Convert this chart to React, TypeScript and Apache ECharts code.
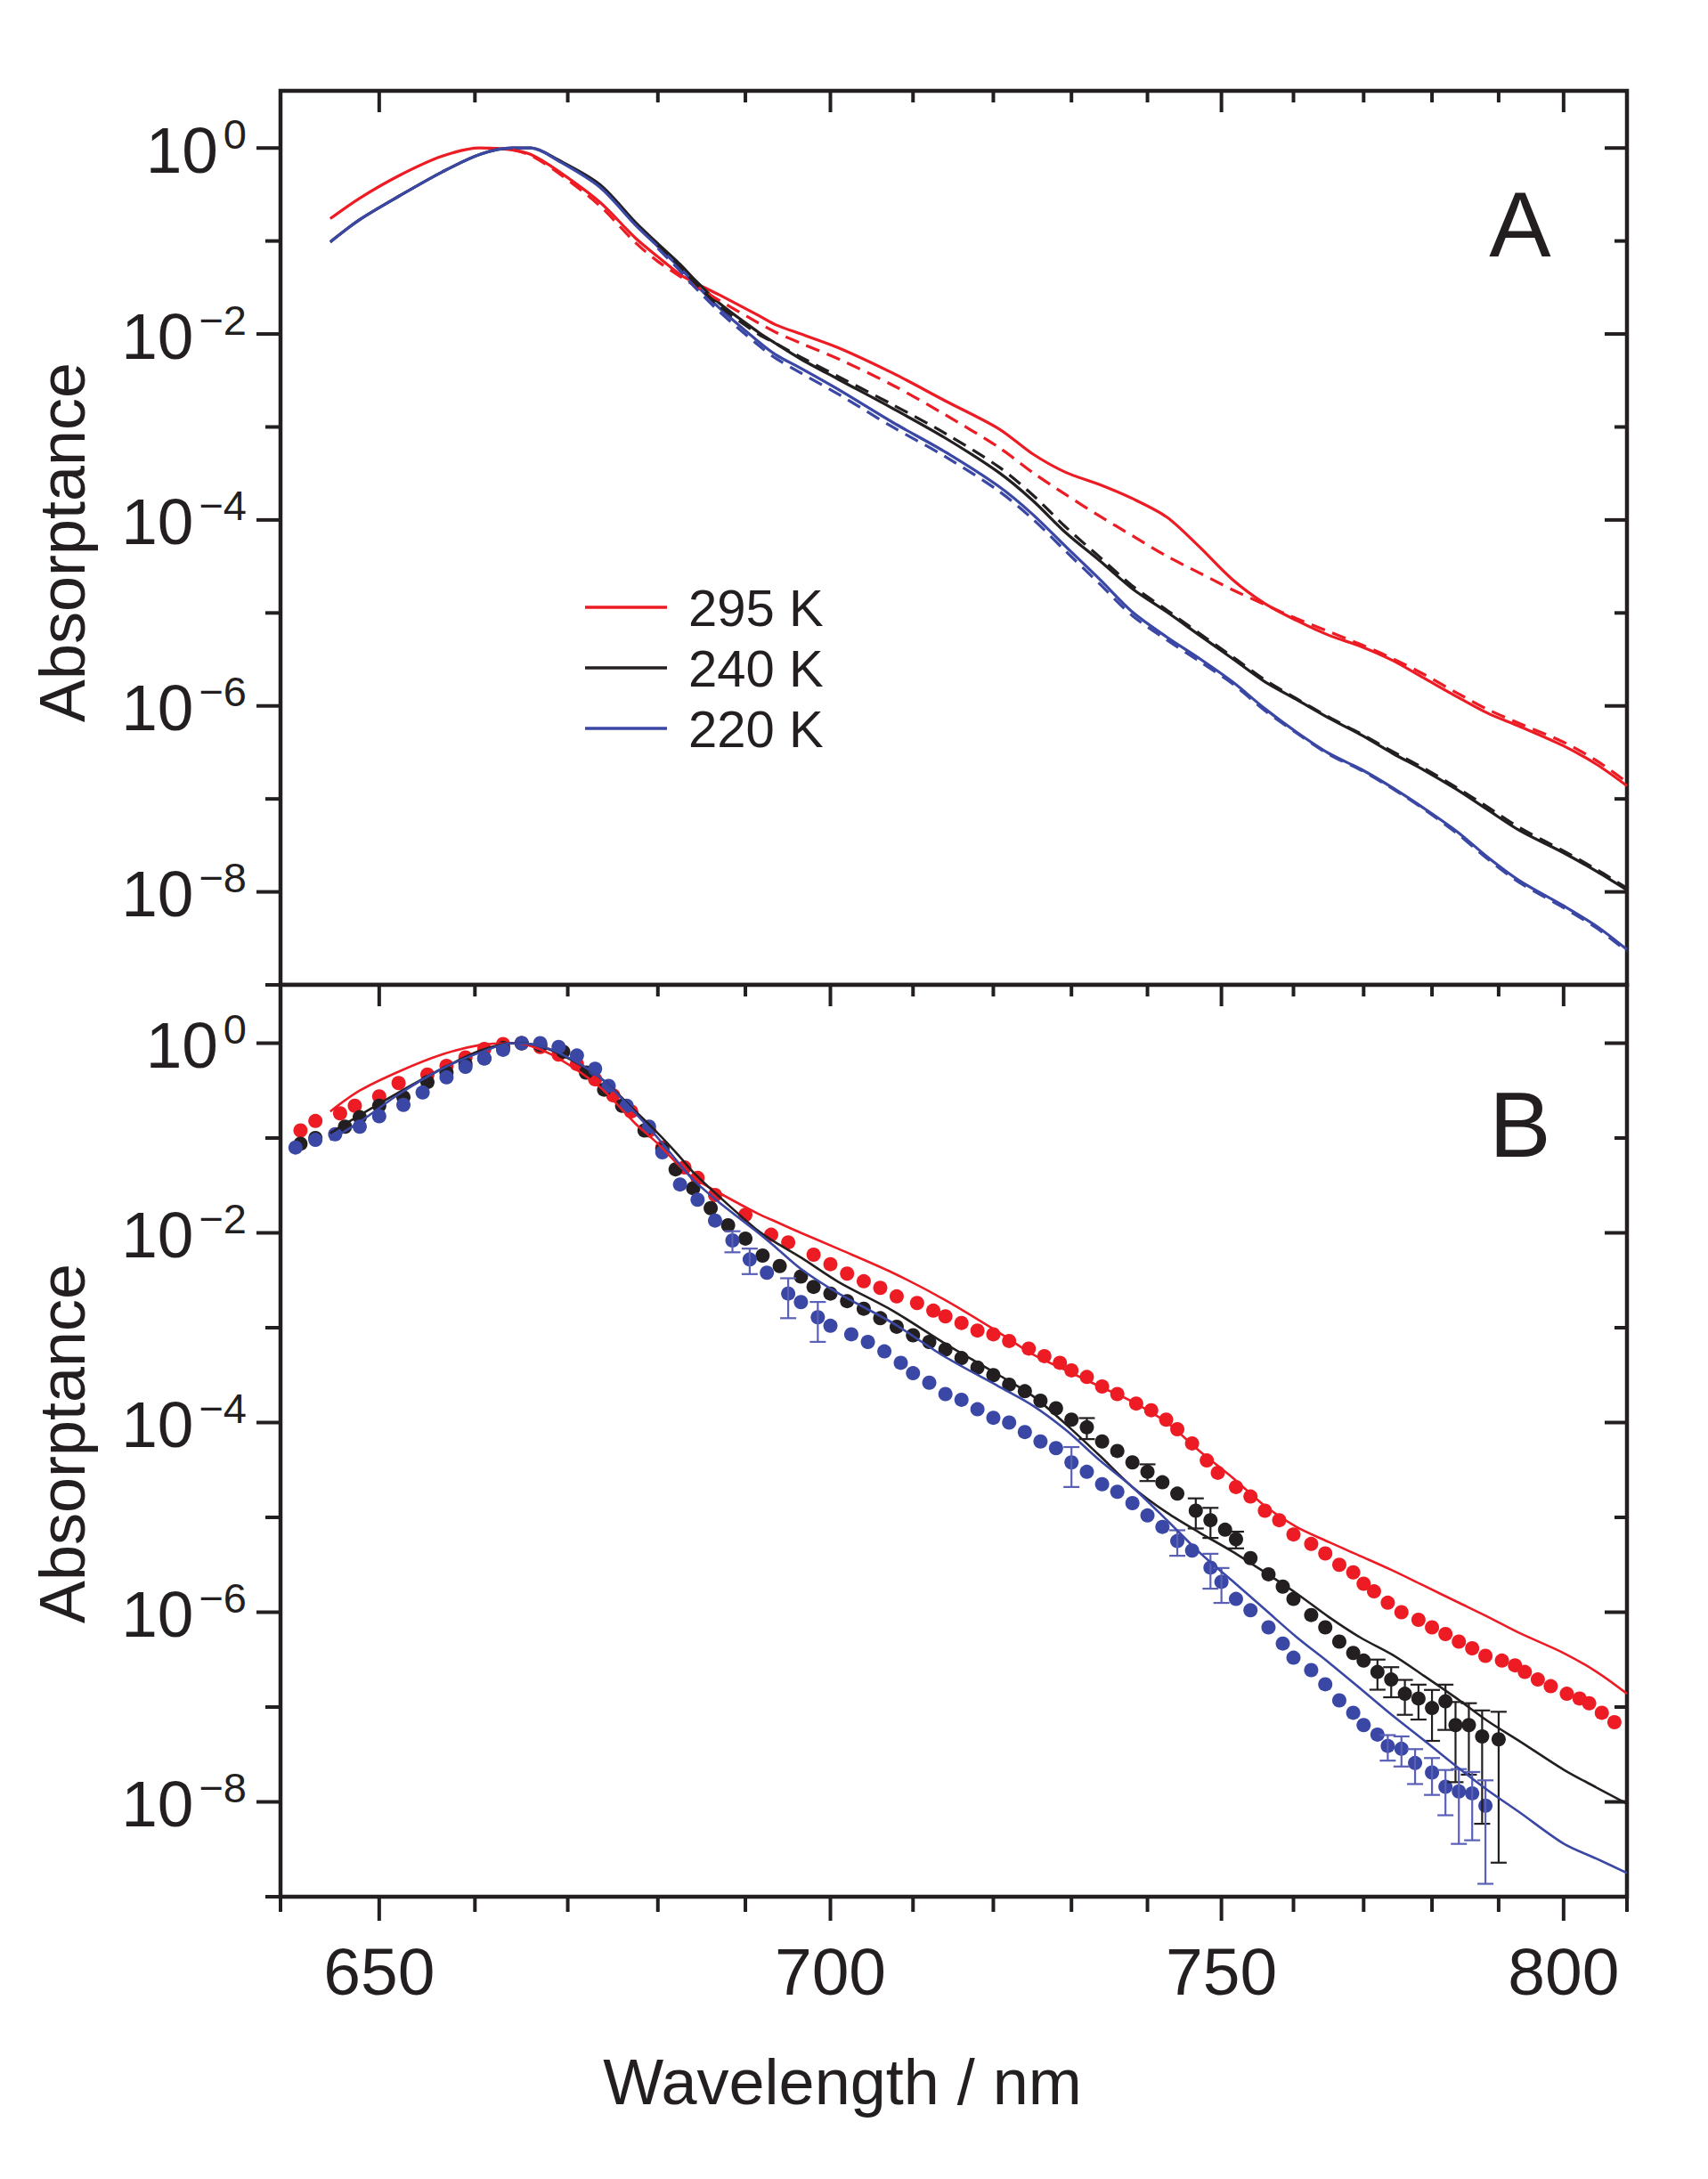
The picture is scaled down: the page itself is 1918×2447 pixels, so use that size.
import React, { useEffect, useRef } from 'react';
import * as echarts from 'echarts';

const FONT = "'Liberation Sans', Arial, Helvetica, sans-serif";
const INK = '#231f20';
const RED = '#ed1c24';
const BLACK = '#231f20';
const BLUE = '#3a47a5';
const BLUE_BAR = '#5a60b6';

// axis ticks (wavelength in nm, absorptance as powers of ten)
const xTickWl = [640, 650, 660, 670, 680, 690, 700, 710, 720, 730, 740, 750, 760, 770, 780, 790, 800, 810];
const xLabelWl = [650, 700, 750, 800];
const yTickExp = [-9, -8, -7, -6, -5, -4, -3, -2, -1, 0];
const yLabelExp = [0, -2, -4, -6, -8];

// wavelength grid of the spectra (nm)
const curveWl = [645, 648, 652, 656.5, 660.5, 664, 666, 669, 673.5, 677.5, 680, 682.5, 684, 687, 691.5, 693.5,
  696.5, 701, 707.5, 714, 720.7, 725, 729.3, 733.7, 738, 742.6, 747, 751.5, 756, 760.4, 765, 769.6, 774.2,
  778.8, 783.7, 788.4, 793.2, 800, 805.2, 810];

// panel A, log10(absorptance): solid spectra
const a295 = [-0.76, -0.54, -0.30, -0.09, 0.0, -0.02, -0.07, -0.25, -0.58, -0.97, -1.17, -1.36, -1.44, -1.58,
  -1.80, -1.90, -2.00, -2.15, -2.42, -2.72, -3.02, -3.29, -3.49, -3.62, -3.77, -3.97, -4.29, -4.64, -4.90,
  -5.08, -5.24, -5.36, -5.51, -5.70, -5.90, -6.08, -6.22, -6.43, -6.63, -6.86];
const a240 = [-1.01, -0.77, -0.52, -0.26, -0.07, 0.0, 0.0, -0.13, -0.39, -0.80, -1.03, -1.25, -1.40, -1.67,
  -1.98, -2.10, -2.27, -2.49, -2.80, -3.12, -3.49, -3.79, -4.14, -4.44, -4.74, -4.99, -5.24, -5.49, -5.74,
  -5.93, -6.13, -6.31, -6.51, -6.69, -6.90, -7.12, -7.34, -7.58, -7.78, -7.98];
const a220 = [-1.01, -0.77, -0.52, -0.26, -0.07, 0.0, 0.0, -0.14, -0.42, -0.83, -1.06, -1.29, -1.44, -1.72,
  -2.08, -2.22, -2.37, -2.60, -2.95, -3.27, -3.64, -3.94, -4.29, -4.64, -4.99, -5.26, -5.49, -5.74, -6.03,
  -6.28, -6.51, -6.68, -6.88, -7.10, -7.35, -7.63, -7.88, -8.15, -8.37, -8.62];

// panel A, dashed (calculated) spectra
const calcRedWl = curveWl.slice(5);
const calc295 = [-0.02, -0.08, -0.27, -0.62, -1.02, -1.22, -1.38, -1.47, -1.64, -1.88, -1.98, -2.10, -2.27,
  -2.55, -2.87, -3.22, -3.49, -3.73, -3.96, -4.17, -4.39, -4.57, -4.75, -4.91, -5.06, -5.20, -5.34, -5.49,
  -5.66, -5.86, -6.04, -6.19, -6.39, -6.59, -6.82];
const calcWl = curveWl.slice(10);
const calc240 = [-1.04, -1.27, -1.43, -1.70, -2.00, -2.10, -2.25, -2.46, -2.76, -3.07, -3.43, -3.73, -4.08,
  -4.40, -4.71, -4.97, -5.22, -5.47, -5.72, -5.92, -6.12, -6.30, -6.49, -6.67, -6.88, -7.09, -7.31, -7.56,
  -7.76, -7.96];
const calc220 = [-1.08, -1.32, -1.48, -1.76, -2.12, -2.26, -2.42, -2.65, -3.00, -3.32, -3.69, -3.99, -4.34,
  -4.69, -5.03, -5.29, -5.52, -5.76, -6.05, -6.29, -6.52, -6.69, -6.89, -7.11, -7.37, -7.65, -7.90, -8.17,
  -8.39, -8.64];

// panel B, solid lines
const b295 = [-0.72, -0.50, -0.30, -0.12, -0.02, 0.0, -0.03, -0.16, -0.46, -0.85, -1.06, -1.30, -1.42, -1.58,
  -1.80, -1.88, -2.00, -2.17, -2.42, -2.71, -3.05, -3.28, -3.45, -3.62, -3.78, -4.00, -4.30, -4.58, -4.88,
  -5.10, -5.26, -5.41, -5.56, -5.72, -5.89, -6.05, -6.22, -6.43, -6.63, -6.86];
const b240 = [-0.95, -0.76, -0.52, -0.27, -0.08, 0.0, -0.01, -0.11, -0.36, -0.72, -0.95, -1.20, -1.36, -1.62,
  -1.98, -2.10, -2.26, -2.52, -2.82, -3.17, -3.50, -3.72, -4.02, -4.35, -4.68, -4.95, -5.16, -5.36, -5.58,
  -5.80, -6.05, -6.27, -6.45, -6.67, -6.91, -7.15, -7.36, -7.66, -7.85, -8.02];
const b220 = [-1.02, -0.83, -0.54, -0.27, -0.10, 0.0, -0.01, -0.10, -0.36, -0.74, -1.00, -1.28, -1.44, -1.68,
  -2.00, -2.15, -2.38, -2.64, -2.95, -3.31, -3.62, -3.82, -4.08, -4.40, -4.68, -5.03, -5.37, -5.67, -5.97,
  -6.26, -6.53, -6.81, -7.09, -7.35, -7.63, -7.88, -8.11, -8.44, -8.60, -8.75];

// panel B, measured points
const redDotWl = [642, 643.5, 646, 647.5, 650, 652, 655, 657, 659, 661, 663, 665, 667, 669, 671, 673, 675, 677,
  679, 680.5, 683, 684.5, 686.5, 690, 693, 695, 698, 700, 702, 704, 706, 708, 710.5, 712.5, 714, 716, 718, 720,
  722, 724.5, 726.5, 728.5, 730, 732, 734, 736, 738.5, 740.5, 742.5, 744, 746, 748, 749.5, 752, 754, 756, 758,
  760, 762.5, 764.5, 766.5, 768.5, 770, 771.5, 773.5, 775.5, 778, 780, 782, 784, 786, 788, 790.5, 792.5, 794,
  796, 798, 800.5, 802.5, 804, 806, 808];
const redDot = [-0.92, -0.82, -0.74, -0.66, -0.56, -0.42, -0.33, -0.24, -0.15, -0.06, -0.01, 0.0, -0.04, -0.12,
  -0.22, -0.38, -0.55, -0.72, -0.92, -1.10, -1.31, -1.42, -1.60, -1.81, -2.02, -2.10, -2.23, -2.33, -2.43,
  -2.51, -2.58, -2.67, -2.74, -2.82, -2.88, -2.95, -3.03, -3.07, -3.14, -3.22, -3.30, -3.37, -3.45, -3.52,
  -3.62, -3.70, -3.80, -3.87, -3.97, -4.07, -4.22, -4.40, -4.53, -4.68, -4.78, -4.93, -5.03, -5.18, -5.28,
  -5.38, -5.50, -5.58, -5.70, -5.78, -5.90, -6.00, -6.08, -6.16, -6.23, -6.31, -6.38, -6.46, -6.51, -6.56,
  -6.63, -6.71, -6.78, -6.86, -6.91, -6.96, -7.06, -7.16];
const blackDotWl = [642, 643.5, 646.5, 648, 650, 652.5, 655, 657, 659, 661, 663, 665, 667, 669.5, 672, 674, 676,
  678.5, 680.5, 682, 684, 686, 688, 690, 692, 694, 696.5, 698, 700, 702, 704, 706, 708, 710, 712, 714, 716, 718,
  720, 722, 724, 726, 728, 730, 732, 734, 736, 738, 740, 742, 744, 746.5, 748.5, 750.5, 752, 754, 756.5, 758.5,
  760, 762.5, 764.5, 766.5, 768.5, 770, 772, 774, 776, 778, 780, 782, 783.5, 785.5, 787.5, 790];
const blackDot = [-1.06, -1.00, -0.88, -0.78, -0.66, -0.57, -0.41, -0.31, -0.22, -0.16, -0.05, 0.0, -0.02, -0.09,
  -0.31, -0.49, -0.66, -0.92, -1.12, -1.33, -1.53, -1.74, -1.92, -2.06, -2.24, -2.35, -2.46, -2.57, -2.64,
  -2.72, -2.80, -2.90, -2.99, -3.08, -3.15, -3.23, -3.32, -3.42, -3.50, -3.60, -3.67, -3.77, -3.85, -3.97,
  -4.05, -4.20, -4.30, -4.42, -4.52, -4.63, -4.75, -4.93, -5.03, -5.13, -5.23, -5.43, -5.60, -5.73, -5.86,
  -6.03, -6.16, -6.31, -6.43, -6.51, -6.63, -6.71, -6.86, -6.91, -7.01, -6.94, -7.19, -7.19, -7.31, -7.34];
const blueDotWl = [641.5, 643.5, 645.5, 648, 650, 652.5, 654.5, 657, 659, 661, 663, 665, 667, 669, 671, 673,
  674.5, 676.5, 679, 680.5, 682.5, 684.5, 686.5, 688.5, 690.5, 692.5, 695, 696.5, 698.5, 700, 702.5, 704.5,
  706.5, 708.5, 710, 712, 714, 716, 718, 720, 722, 724, 726, 728, 730, 732, 734, 736, 738, 740, 742, 744, 746,
  748.5, 750, 752, 754, 756.5, 758.5, 760, 762.5, 764.5, 766.5, 768.5, 770, 772, 773.5, 775.5, 777.5, 780, 782,
  784, 786, 788];
const blueDot = [-1.10, -1.02, -0.96, -0.88, -0.77, -0.65, -0.52, -0.36, -0.25, -0.16, -0.07, 0.0, 0.0, -0.04,
  -0.13, -0.27, -0.45, -0.66, -0.88, -1.15, -1.49, -1.65, -1.87, -2.08, -2.28, -2.42, -2.64, -2.73, -2.89,
  -2.98, -3.07, -3.15, -3.25, -3.37, -3.48, -3.58, -3.70, -3.76, -3.86, -3.95, -4.00, -4.10, -4.20, -4.27,
  -4.42, -4.52, -4.65, -4.73, -4.85, -4.98, -5.10, -5.25, -5.35, -5.53, -5.68, -5.86, -5.98, -6.16, -6.33,
  -6.48, -6.61, -6.76, -6.93, -7.06, -7.19, -7.29, -7.41, -7.44, -7.59, -7.69, -7.84, -7.89, -7.91, -8.04];

// visible error bars: wavelength of the point and relative error
const blackErrWl = [732, 740, 746.5, 748.5, 752, 772, 774, 776, 778, 780, 782, 783.5, 785.5, 787.5, 790];
const blackErr = [0.25, 0.2, 0.35, 0.35, 0.2, 0.35, 0.35, 0.4, 0.4, 0.55, 0.5, 0.75, 0.7, 0.88, 0.95];
const blueErrWl = [688.5, 690.5, 695, 698.5, 730, 744, 748.5, 750, 773.5, 775.5, 777.5, 780, 782, 784, 786, 788];
const blueErr = [0.25, 0.3, 0.45, 0.45, 0.45, 0.3, 0.4, 0.4, 0.3, 0.35, 0.4, 0.42, 0.5, 0.72, 0.68, 0.85];

// x axis is linear in wavenumber (cm^-1)
const nu = (wl: number) => 1e7 / wl;
const pts = (wl: number[], lg: number[]) => wl.map((w, i) => [nu(w), Math.pow(10, lg[i])]);
const NU_MIN = nu(810);
const NU_MAX = nu(640);

const measureCtx = typeof document !== 'undefined' ? document.createElement('canvas').getContext('2d') : null;
const textWidth = (t: string, size: number) => {
  if (!measureCtx) return t.length * size * 0.56;
  measureCtx.font = `${size}px ${FONT}`;
  return measureCtx.measureText(t).width;
};

const bars = (errWl: number[], err: number[], dotWl: number[], dot: number[]) =>
  errWl.map((w, i) => {
    const v = Math.pow(10, dot[dotWl.indexOf(w)]);
    return [nu(w), v * (1 - err[i]), v * (1 + err[i])];
  });

const lineSeries = (name: string, data: number[][], color: string, axis: number, width: number, dashed = false) => ({
  name,
  type: 'line',
  xAxisIndex: axis,
  yAxisIndex: axis,
  data,
  smooth: 0.3,
  showSymbol: false,
  symbol: 'none',
  itemStyle: { color },
  lineStyle: { color, width, type: dashed ? [16, 9] : 'solid' },
  z: dashed ? 4 : 3,
});

const xTickSeries = (axis: number) => ({
  type: 'custom',
  xAxisIndex: axis,
  yAxisIndex: axis,
  data: xTickWl.map((w) => [nu(w), 1]),
  z: 6,
  renderItem: (params: any, api: any) => {
    const cs = params.coordSys;
    const x = api.coord([api.value(0), 1])[0];
    const wl = Math.round(1e7 / api.value(0));
    const major = xLabelWl.includes(wl);
    const st = { stroke: INK, lineWidth: 4 };
    const children: any[] = [
      { type: 'line', shape: { x1: x, y1: cs.y, x2: x, y2: cs.y + (major ? 24 : 13) }, style: st },
    ];
    if (axis === 1) {
      const yb = cs.y + cs.height;
      children.push({ type: 'line', shape: { x1: x, y1: yb, x2: x, y2: yb + (major ? 27 : 17) }, style: st });
      if (major) {
        children.push({
          type: 'text',
          style: {
            text: String(wl), x, y: yb + 84, align: 'center', verticalAlign: 'middle',
            fontSize: 75, fontFamily: FONT, fill: INK,
          },
        });
      }
    }
    return { type: 'group', children };
  },
});

// y ticks on both sides, and "10^n" labels with a raised exponent
const yTickSeries = (axis: number) => ({
  type: 'custom',
  xAxisIndex: axis,
  yAxisIndex: axis,
  data: yTickExp.map((e) => [nu(700), Math.pow(10, e)]),
  z: 6,
  renderItem: (params: any, api: any) => {
    const cs = params.coordSys;
    const y = api.coord([api.value(0), api.value(1)])[1];
    const e = Math.round(Math.log10(api.value(1)));
    const major = e % 2 === 0;
    const st = { stroke: INK, lineWidth: 4 };
    const xr = cs.x + cs.width;
    const children: any[] = [
      { type: 'line', shape: { x1: cs.x - (major ? 27 : 17), y1: y, x2: cs.x, y2: y }, style: st },
      { type: 'line', shape: { x1: xr - (major ? 25 : 14), y1: y, x2: xr, y2: y }, style: st },
    ];
    if (yLabelExp.includes(e)) {
      const sup = e === 0 ? '0' : '\u2212' + -e;
      const right = cs.x - 38;
      const supLeft = right - textWidth(sup, 47);
      children.push(
        {
          type: 'text',
          style: { text: sup, x: right, y: y - 16, align: 'right', verticalAlign: 'middle', fontSize: 47, fontFamily: FONT, fill: INK },
        },
        {
          type: 'text',
          style: { text: '10', x: supLeft - 6, y: y + 2, align: 'right', verticalAlign: 'middle', fontSize: 73, fontFamily: FONT, fill: INK },
        },
      );
    }
    return { type: 'group', children };
  },
});

const errorSeries = (data: number[][], color: string) => ({
  type: 'custom',
  xAxisIndex: 1,
  yAxisIndex: 1,
  data,
  encode: { x: 0, y: [1, 2] },
  z: 3,
  renderItem: (params: any, api: any) => {
    const top = api.coord([api.value(0), api.value(2)]);
    const bot = api.coord([api.value(0), api.value(1)]);
    const w = 9;
    const st = { stroke: color, lineWidth: 2.2 };
    return {
      type: 'group',
      children: [
        { type: 'line', shape: { x1: top[0], y1: top[1], x2: bot[0], y2: bot[1] }, style: st },
        { type: 'line', shape: { x1: top[0] - w, y1: top[1], x2: top[0] + w, y2: top[1] }, style: st },
        { type: 'line', shape: { x1: bot[0] - w, y1: bot[1], x2: bot[0] + w, y2: bot[1] }, style: st },
      ],
    };
  },
});

const dotSeries = (name: string, data: number[][], color: string) => ({
  name,
  type: 'scatter',
  xAxisIndex: 1,
  yAxisIndex: 1,
  data,
  symbol: 'circle',
  symbolSize: 16,
  itemStyle: { color, opacity: 1 },
  z: 2,
});

const yAxis = (grid: number) => ({
  type: 'log',
  gridIndex: grid,
  logBase: 10,
  min: 1e-9,
  max: 4.12,
  interval: 1,
  axisLine: { show: false },
  axisTick: { show: false },
  splitLine: { show: false },
  axisLabel: { show: false },
});

const xAxis = (grid: number) => ({
  type: 'value',
  gridIndex: grid,
  min: NU_MIN,
  max: NU_MAX,
  inverse: true,
  show: false,
});

const App = () => {
  const chartRef = useRef<HTMLDivElement>(null);

  useEffect(() => {
    document.body.style.margin = '0';
    const chart = echarts.init(chartRef.current, null, { renderer: 'svg' });

    const gridStyle = { show: true, borderColor: INK, borderWidth: 4.5, backgroundColor: '#fff' };

    const option = {
      animation: false,
      backgroundColor: '#fff',
      grid: [
        { left: 315, top: 102, width: 1512, height: 1004, ...gridStyle },
        { left: 315, top: 1106, width: 1512, height: 1024, ...gridStyle },
      ],
      xAxis: [xAxis(0), xAxis(1)],
      yAxis: [yAxis(0), yAxis(1)],
      legend: {
        data: ['295 K', '240 K', '220 K'],
        orient: 'vertical',
        left: 652,
        top: 648,
        icon: 'rect',
        itemWidth: 92,
        itemHeight: 3.5,
        itemGap: 10,
        selectedMode: false,
        textStyle: { fontSize: 58, lineHeight: 58, fontFamily: FONT, color: INK, padding: [0, 0, 0, 19] },
      },
      graphic: [
        {
          type: 'text', x: 1707, y: 252,
          style: { text: 'A', fontSize: 104, fontFamily: FONT, fill: INK, align: 'center', verticalAlign: 'middle' },
        },
        {
          type: 'text', x: 1707, y: 1263,
          style: { text: 'B', fontSize: 104, fontFamily: FONT, fill: INK, align: 'center', verticalAlign: 'middle' },
        },
        {
          type: 'text', x: 70, y: 609, rotation: Math.PI / 2,
          style: { text: 'Absorptance', fontSize: 72, fontFamily: FONT, fill: INK, align: 'center', verticalAlign: 'middle' },
        },
        {
          type: 'text', x: 70, y: 1621, rotation: Math.PI / 2,
          style: { text: 'Absorptance', fontSize: 72, fontFamily: FONT, fill: INK, align: 'center', verticalAlign: 'middle' },
        },
        {
          type: 'text', x: 946, y: 2338,
          style: { text: 'Wavelength / nm', fontSize: 72, fontFamily: FONT, fill: INK, align: 'center', verticalAlign: 'middle' },
        },
      ],
      series: [
        // panel A
        lineSeries('295 K', pts(curveWl, a295), RED, 0, 3.2),
        lineSeries('240 K', pts(curveWl, a240), BLACK, 0, 3.2),
        lineSeries('220 K', pts(curveWl, a220), BLUE, 0, 3.2),
        lineSeries('295 K calc', pts(calcRedWl, calc295), RED, 0, 3.2, true),
        lineSeries('240 K calc', pts(calcWl, calc240), BLACK, 0, 3.2, true),
        lineSeries('220 K calc', pts(calcWl, calc220), BLUE, 0, 3.2, true),
        xTickSeries(0),
        yTickSeries(0),
        // panel B
        dotSeries('295 K data', pts(redDotWl, redDot), RED),
        dotSeries('240 K data', pts(blackDotWl, blackDot), BLACK),
        dotSeries('220 K data', pts(blueDotWl, blueDot), BLUE),
        errorSeries(bars(blackErrWl, blackErr, blackDotWl, blackDot), BLACK),
        errorSeries(bars(blueErrWl, blueErr, blueDotWl, blueDot), BLUE_BAR),
        lineSeries('295 K model', pts(curveWl, b295), RED, 1, 2.6),
        lineSeries('240 K model', pts(curveWl, b240), BLACK, 1, 2.6),
        lineSeries('220 K model', pts(curveWl, b220), BLUE, 1, 2.6),
        xTickSeries(1),
        yTickSeries(1),
      ],
    };

    chart.setOption(option as any);

    return () => {
      chart.dispose();
    };
  }, []);

  return <div ref={chartRef} style={{ width: '1918px', height: '2447px' }} />;
};

export default App;
